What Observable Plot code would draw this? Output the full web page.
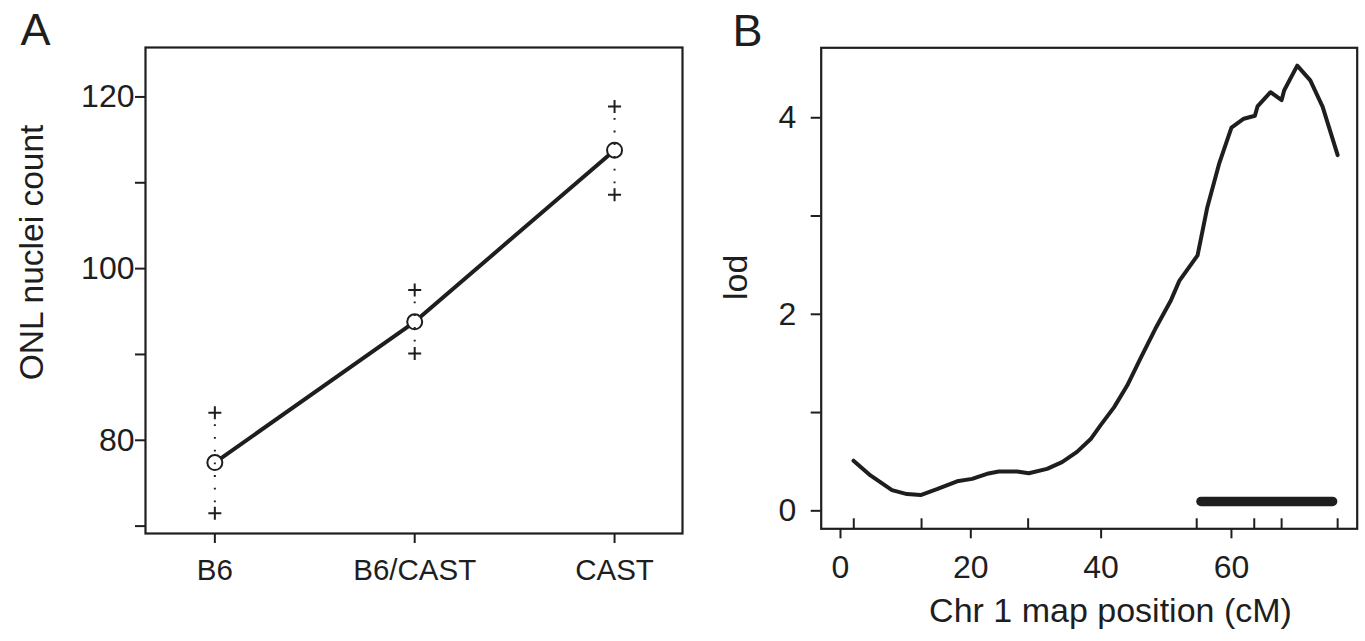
<!DOCTYPE html>
<html>
<head>
<meta charset="utf-8">
<script src="https://cdn.jsdelivr.net/npm/d3@7"></script>
<script src="https://cdn.jsdelivr.net/npm/@observablehq/plot@0.6"></script>
<style>
  html, body { margin: 0; padding: 0; background: #fff; }
  #wrap { position: relative; width: 1365px; height: 641px; overflow: hidden; }
  #wrap svg { position: absolute; top: 0; overflow: visible; }
</style>
</head>
<body>
<div id="wrap"></div>
<script>
// ---------- Panel A data ----------
const genotypes = ["B6", "B6/CAST", "CAST"];
const genoIndex = [1, 2, 3];
const meanCount = [77.4, 93.8, 113.8];
const upperCount = [83.2, 97.5, 118.9];
const lowerCount = [71.5, 90.1, 108.6];
const countTicks = [70, 80, 90, 100, 110, 120];
const countLabels = [80, 100, 120];

// ---------- Panel B data ----------
const positionCM = [2.0, 4.6, 7.9, 10.2, 12.3, 14.8, 17.9, 20.2, 22.5, 24.3, 27.1, 28.9, 31.7, 34.0, 36.3, 38.4, 39.9, 42.0, 44.0, 46.1, 48.3, 50.7, 52.0, 54.8, 56.3, 58.1, 60.0, 61.9, 63.6, 64.0, 66.0, 67.7, 68.1, 70.1, 72.1, 74.0, 76.3];
const lodScore  = [0.51, 0.36, 0.21, 0.17, 0.16, 0.22, 0.30, 0.325, 0.377, 0.40, 0.40, 0.383, 0.427, 0.495, 0.60, 0.73, 0.87, 1.055, 1.275, 1.56, 1.85, 2.14, 2.34, 2.60, 3.09, 3.53, 3.90, 3.99, 4.02, 4.115, 4.26, 4.18, 4.28, 4.53, 4.38, 4.11, 3.62];
const markerCM = [2.04, 12.44, 28.8, 54.67, 63.5, 67.7, 76.3];
const intervalCM = [55.4, 75.6];
const intervalLod = 0.095;
const cmTicks = [0, 20, 40, 60];
const lodTicks = [0, 1, 2, 3, 4];
const lodLabels = [0, 2, 4];

const ink = "#1e1e1e";
const font = "'Liberation Sans', Arial, Helvetica, sans-serif";

const rowsA = genoIndex.map((g, i) => ({g, name: genotypes[i], mean: meanCount[i], hi: upperCount[i], lo: lowerCount[i]}));
const rowsB = positionCM.map((p, i) => ({p, lod: lodScore[i]}));

const plusSymbol = {
  draw(context, size) {
    const r = Math.sqrt(size / Math.PI);
    context.moveTo(-r, 0); context.lineTo(r, 0);
    context.moveTo(0, -r); context.lineTo(0, r);
  }
};

// ---------- Panel A ----------
const A = Plot.plot({
  width: 700, height: 641,
  marginLeft: 145, marginRight: 18, marginTop: 47, marginBottom: 108,
  style: {fontFamily: font, fontSize: "28px", color: ink, background: "transparent"},
  x: {type: "linear", domain: [0.653, 3.34]},
  y: {domain: [69.14, 125.76]},
  marks: [
    Plot.frame({stroke: ink, strokeWidth: 2.2}),
    Plot.axisX({ticks: genoIndex, tickFormat: d => genotypes[d - 1], tickSize: 10, tickPadding: 16, strokeWidth: 2, fontSize: 29.5, label: null}),
    Plot.axisY({ticks: countTicks, tickFormat: d => countLabels.includes(d) ? d : "", tickSize: 10, tickPadding: 1, strokeWidth: 2, fontSize: 32, label: null}),
    Plot.line(rowsA, {x: "g", y: "mean", stroke: ink, strokeWidth: 4}),
    Plot.dot(rowsA, {x: "g", y: "mean", r: 7.5, fill: "white", stroke: ink, strokeWidth: 2}),
    Plot.ruleX(rowsA, {x: "g", y1: "hi", y2: "lo", stroke: ink, strokeWidth: 2, strokeDasharray: "1.8,10.9", strokeDashoffset: -12}),
    Plot.dot(rowsA, {x: "g", y: "hi", symbol: plusSymbol, r: 6.5, fill: "none", stroke: ink, strokeWidth: 2}),
    Plot.dot(rowsA, {x: "g", y: "lo", symbol: plusSymbol, r: 6.5, fill: "none", stroke: ink, strokeWidth: 2}),
    Plot.text(["ONL nuclei count"], {text: d => d, frameAnchor: "left", rotate: -90, dx: -113.4, dy: -38, textAnchor: "middle", lineAnchor: "middle", fontSize: 33.5, fill: ink}),
    Plot.text(["A"], {text: d => d, frameAnchor: "top-left", dx: -125, dy: -34.5, textAnchor: "start", lineAnchor: "top", fontSize: 45, fill: ink})
  ]
});
A.style.left = "0px";

// ---------- Panel B ----------
const B = Plot.plot({
  width: 665, height: 641,
  marginLeft: 120.7, marginRight: 8.3, marginTop: 47.3, marginBottom: 112.7,
  style: {fontFamily: font, fontSize: "28px", color: ink, background: "transparent"},
  x: {domain: [-2.96, 79.3]},
  y: {domain: [-0.183, 4.712]},
  marks: [
    Plot.frame({stroke: ink, strokeWidth: 2.2}),
    Plot.axisX({ticks: cmTicks, tickSize: 10, tickPadding: 16.5, strokeWidth: 2, fontSize: 32, label: null}),
    Plot.axisY({ticks: lodTicks, tickFormat: d => lodLabels.includes(d) ? d : "", tickSize: 10, tickPadding: 15, strokeWidth: 2, fontSize: 32, label: null}),
    Plot.tickX(markerCM, {x: d => d, insetTop: 471, stroke: ink, strokeWidth: 2}),
    Plot.line(rowsB, {x: "p", y: "lod", stroke: ink, strokeWidth: 4, strokeLinejoin: "round"}),
    Plot.ruleY([intervalLod], {y: d => d, x1: intervalCM[0], x2: intervalCM[1], stroke: ink, strokeWidth: 9.5, strokeLinecap: "round"}),
    Plot.text(["lod"], {text: d => d, frameAnchor: "left", rotate: -90, dx: -84.7, dy: -11, textAnchor: "middle", lineAnchor: "middle", fontSize: 34, fill: ink}),
    Plot.text(["Chr 1 map position (cM)"], {text: d => d, frameAnchor: "bottom", dx: 21.3, dy: 68.7, textAnchor: "middle", lineAnchor: "top", fontSize: 34, fill: ink}),
    Plot.text(["B"], {text: d => d, frameAnchor: "top-left", dx: -88.7, dy: -34, textAnchor: "start", lineAnchor: "top", fontSize: 45, fill: ink})
  ]
});
B.style.left = "700px";

const wrap = document.getElementById("wrap");
wrap.appendChild(A);
wrap.appendChild(B);
</script>
</body>
</html>
